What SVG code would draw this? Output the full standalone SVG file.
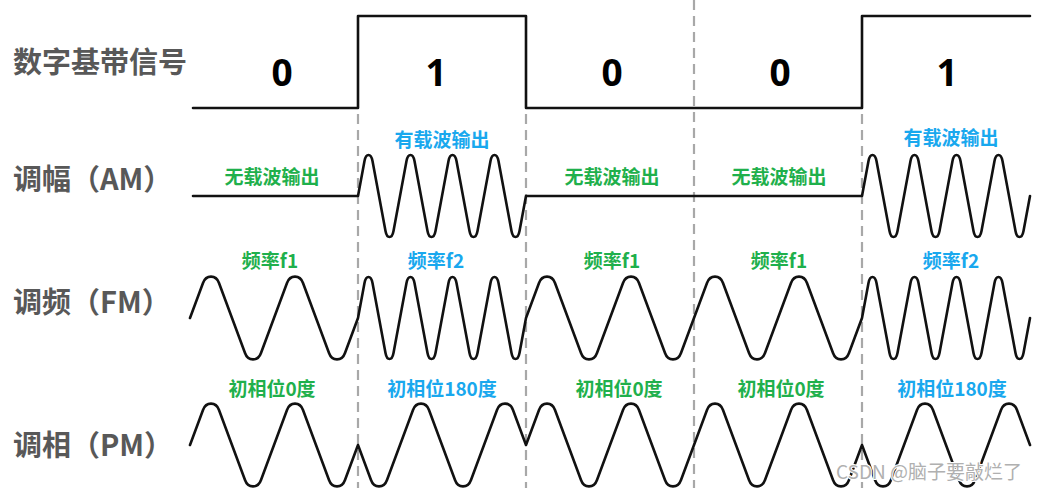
<svg xmlns="http://www.w3.org/2000/svg" width="1038" height="488" viewBox="0 0 1038 488">
<style>
.bg{fill:#ffffff}
.wave{fill:none;stroke:#111;stroke-width:2.6;stroke-linejoin:round;stroke-linecap:round}
.div{stroke:#a8a8a8;stroke-width:2.2;stroke-dasharray:10 6;fill:none}
.row{font-family:"Noto Sans CJK SC","Noto Sans",sans-serif;font-weight:bold;font-size:29px;fill:#585858}
.bit{font-family:"Open Sans","Noto Sans",sans-serif;font-weight:bold;font-size:37px;fill:#000;text-anchor:middle}
.g{font-family:"Noto Sans CJK SC","Noto Sans",sans-serif;font-weight:bold;font-size:19px;fill:#1fb04c;text-anchor:middle}
.b{font-family:"Noto Sans CJK SC","Noto Sans",sans-serif;font-weight:bold;font-size:19px;fill:#19a8ee;text-anchor:middle}
.wm{font-family:"Noto Sans CJK SC","Noto Sans",sans-serif;font-size:19px;fill:#b0b0b0;stroke:#fff;stroke-width:2;paint-order:stroke}
</style>
<rect class="bg" x="0" y="0" width="1038" height="488"/>
<g id="connectors">
<line class="div" x1="358" y1="114" x2="358" y2="488"/>
<line class="div" x1="526" y1="114" x2="526" y2="488"/>
<line class="div" x1="694" y1="0" x2="694" y2="488"/>
<line class="div" x1="862" y1="114" x2="862" y2="488"/>
</g>
<g id="digital">
<text class="row" x="13" y="73">数字基带信号</text>
<path class="wave" d="M193,108 H358 V16 H526 V108 H862 V16 H1030"/>
<text class="bit" x="282" y="86">0</text>
<text class="bit" x="436" y="86">1</text>
<text class="bit" x="612" y="86">0</text>
<text class="bit" x="780" y="86">0</text>
<text class="bit" x="947" y="86">1</text>
</g>
<g id="am">
<text class="row" x="13" y="190">调幅（AM）</text>
<path class="wave" d="M193,196 H358
l6.5,-35 c1.5,-8 6.5,-8 8,0 l6.5,35 l6.5,35 c1.5,8 6.5,8 8,0 l6.5,-35
l6.5,-35 c1.5,-8 6.5,-8 8,0 l6.5,35 l6.5,35 c1.5,8 6.5,8 8,0 l6.5,-35
l6.5,-35 c1.5,-8 6.5,-8 8,0 l6.5,35 l6.5,35 c1.5,8 6.5,8 8,0 l6.5,-35
l6.5,-35 c1.5,-8 6.5,-8 8,0 l6.5,35 l6.5,35 c1.5,8 6.5,8 8,0 l6.5,-35
H862
l6.5,-35 c1.5,-8 6.5,-8 8,0 l6.5,35 l6.5,35 c1.5,8 6.5,8 8,0 l6.5,-35
l6.5,-35 c1.5,-8 6.5,-8 8,0 l6.5,35 l6.5,35 c1.5,8 6.5,8 8,0 l6.5,-35
l6.5,-35 c1.5,-8 6.5,-8 8,0 l6.5,35 l6.5,35 c1.5,8 6.5,8 8,0 l6.5,-35
l6.5,-35 c1.5,-8 6.5,-8 8,0 l6.5,35 l6.5,35 c1.5,8 6.5,8 8,0 l6.5,-35"/>
<text class="g" x="272" y="184">无载波输出</text>
<text class="b" x="442" y="147">有载波输出</text>
<text class="g" x="612" y="184">无载波输出</text>
<text class="g" x="779" y="184">无载波输出</text>
<text class="b" x="951" y="145">有载波输出</text>
</g>
<g id="fm">
<text class="row" x="13" y="313">调频（FM）</text>
<path class="wave" d="M190,318
l13,-35 c3,-8.5 13,-8.5 16,0 l13,35 l13,35 c3,8.5 13,8.5 16,0 l13,-35
l13,-35 c3,-8.5 13,-8.5 16,0 l13,35 l13,35 c3,8.5 13,8.5 16,0 l13,-35
l6.5,-35 c1.5,-8 6.5,-8 8,0 l6.5,35 l6.5,35 c1.5,8 6.5,8 8,0 l6.5,-35
l6.5,-35 c1.5,-8 6.5,-8 8,0 l6.5,35 l6.5,35 c1.5,8 6.5,8 8,0 l6.5,-35
l6.5,-35 c1.5,-8 6.5,-8 8,0 l6.5,35 l6.5,35 c1.5,8 6.5,8 8,0 l6.5,-35
l6.5,-35 c1.5,-8 6.5,-8 8,0 l6.5,35 l6.5,35 c1.5,8 6.5,8 8,0 l6.5,-35
l13,-35 c3,-8.5 13,-8.5 16,0 l13,35 l13,35 c3,8.5 13,8.5 16,0 l13,-35
l13,-35 c3,-8.5 13,-8.5 16,0 l13,35 l13,35 c3,8.5 13,8.5 16,0 l13,-35
l13,-35 c3,-8.5 13,-8.5 16,0 l13,35 l13,35 c3,8.5 13,8.5 16,0 l13,-35
l13,-35 c3,-8.5 13,-8.5 16,0 l13,35 l13,35 c3,8.5 13,8.5 16,0 l13,-35
l6.5,-35 c1.5,-8 6.5,-8 8,0 l6.5,35 l6.5,35 c1.5,8 6.5,8 8,0 l6.5,-35
l6.5,-35 c1.5,-8 6.5,-8 8,0 l6.5,35 l6.5,35 c1.5,8 6.5,8 8,0 l6.5,-35
l6.5,-35 c1.5,-8 6.5,-8 8,0 l6.5,35 l6.5,35 c1.5,8 6.5,8 8,0 l6.5,-35
l6.5,-35 c1.5,-8 6.5,-8 8,0 l6.5,35 l6.5,35 c1.5,8 6.5,8 8,0 l6.5,-35"/>
<text class="g" x="270" y="268">频率f1</text>
<text class="b" x="436" y="268">频率f2</text>
<text class="g" x="612" y="268">频率f1</text>
<text class="g" x="779" y="268">频率f1</text>
<text class="b" x="951" y="268">频率f2</text>
</g>
<g id="pm">
<text class="row" x="13" y="456">调相（PM）</text>
<path class="wave" d="M190,445
l13,-35 c3,-8.5 13,-8.5 16,0 l13,35 l13,35 c3,8.5 13,8.5 16,0 l13,-35
l13,-35 c3,-8.5 13,-8.5 16,0 l13,35 l13,35 c3,8.5 13,8.5 16,0 l13,-35
l13,35 c3,8.5 13,8.5 16,0 l13,-35 l13,-35 c3,-8.5 13,-8.5 16,0 l13,35
l13,35 c3,8.5 13,8.5 16,0 l13,-35 l13,-35 c3,-8.5 13,-8.5 16,0 l13,35
l13,-35 c3,-8.5 13,-8.5 16,0 l13,35 l13,35 c3,8.5 13,8.5 16,0 l13,-35
l13,-35 c3,-8.5 13,-8.5 16,0 l13,35 l13,35 c3,8.5 13,8.5 16,0 l13,-35
l13,-35 c3,-8.5 13,-8.5 16,0 l13,35 l13,35 c3,8.5 13,8.5 16,0 l13,-35
l13,-35 c3,-8.5 13,-8.5 16,0 l13,35 l13,35 c3,8.5 13,8.5 16,0 l13,-35
l13,35 c3,8.5 13,8.5 16,0 l13,-35 l13,-35 c3,-8.5 13,-8.5 16,0 l13,35
l13,35 c3,8.5 13,8.5 16,0 l13,-35 l13,-35 c3,-8.5 13,-8.5 16,0 l13,35"/>
<text class="g" x="272" y="396">初相位0度</text>
<text class="b" x="442" y="396">初相位180度</text>
<text class="g" x="619" y="396">初相位0度</text>
<text class="g" x="781" y="396">初相位0度</text>
<text class="b" x="952" y="396">初相位180度</text>
</g>
<text class="wm" x="836" y="479">CSDN @脑子要敲烂了</text>
</svg>
